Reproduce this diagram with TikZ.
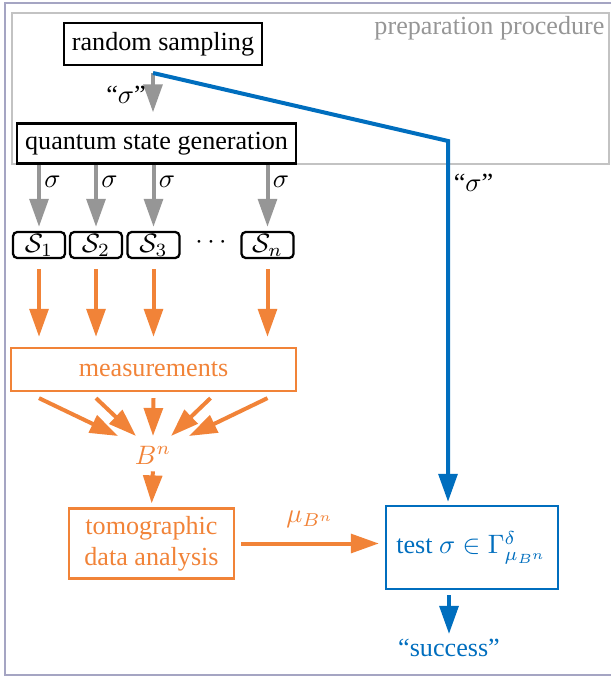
\documentclass[tikz,border=0pt]{standalone}
\usepackage{fontspec}
\setmainfont{Liberation Serif}
\usetikzlibrary{arrows.meta,calc}
\definecolor{orng}{RGB}{241,131,56}
\definecolor{blu}{RGB}{0,110,190}
\definecolor{gry}{RGB}{150,150,150}
\definecolor{frm}{RGB}{165,165,195}
\definecolor{prepc}{RGB}{195,195,195}
\begin{document}
\begin{tikzpicture}[x=0.375pt,y=-0.375pt,
  font=\fontsize{9.8}{11.8}\selectfont,
  tip/.style={-{Triangle[length=10.5pt,width=7pt]}},
  garrow/.style={tip, draw=gry, line width=1.5pt},
  oarrow/.style={tip, draw=orng, line width=1.5pt},
  barrow/.style={tip, draw=blu, line width=1.5pt},
  bbox/.style={draw, line width=0.85pt, inner sep=0pt},
  sbox/.style={bbox, rounded corners=1.6pt, minimum width=52*0.375pt, minimum height=26*0.375pt},
  obox/.style={bbox, draw=orng, text=orng},
  lab/.style={inner sep=1pt}
]
\useasboundingbox (0,0) rectangle (611,679);
% frames
\draw[frm, line width=0.6pt] (611,3) -- (5,3) -- (5,675) -- (611,675);
\draw[prepc, line width=0.45pt] (12,13) rectangle (609,164);
\node[anchor=east, text=gry, inner sep=0pt] (prep) at (605,28) {preparation procedure};

% nodes
\node[bbox, minimum width=198*0.375pt, minimum height=42*0.375pt] (rs) at (163,44) {random sampling};
\node[bbox, minimum width=279*0.375pt, minimum height=40*0.375pt] (qsg) at (156.5,143.5) {quantum state generation};
\node[sbox] (s1) at (39,245) {$\mathcal{S}_1$};
\node[sbox] (s2) at (96,245) {$\mathcal{S}_2$};
\node[sbox] (s3) at (153.5,245) {$\mathcal{S}_3$};
\node[sbox] (sn) at (267.5,245) {$\mathcal{S}_n$};
\node (dots) at (211,243) {$\cdots$};
\node[obox, minimum width=285*0.375pt, minimum height=43*0.375pt] (meas) at (153.5,369.5) {measurements};
\node[text=orng, inner sep=1pt] (bn) at (153,455) {$B^n$};
\node[obox, align=center, minimum width=165*0.375pt, minimum height=70*0.375pt] (tomo) at (151.5,543.5) {tomographic\\data analysis};
\node[bbox, draw=blu, text=blu, minimum width=172*0.375pt, minimum height=83*0.375pt] (test) at (472,547.5) {test $\sigma\in\Gamma^{\delta}_{\mu_{B^n}}$};
\node[text=blu, inner sep=1pt] (succ) at (449,648) {``success''};

% gray arrows
\coordinate (s0) at (153,73);
\draw[garrow, shorten >=10*0.375pt] (s0) -- (s0 |- qsg.north)
  node[pos=0.45, left=1pt, lab, text=black] {``$\sigma$''};
\foreach \s in {s1,s2,s3,sn}{
  \draw[garrow, shorten >=4*0.375pt] (qsg.south -| \s) -- (\s.north)
    node[pos=0.26, right=0.3pt, lab, text=black] {$\sigma$};
  \draw[oarrow, shorten <=10*0.375pt, shorten >=10*0.375pt] (\s.south) -- (meas.north -| \s);
}

% fan arrows into B^n
\draw[oarrow] ($(meas.south)+(-114.5,6)$) -- ($(bn)+(-35,-19)$);
\draw[oarrow] ($(meas.south)+(-57.5,6)$) -- ($(bn)+(-17,-19)$);
\draw[oarrow] ($(meas.south)+(0,6)$) -- ($(bn)+(0,-19)$);
\draw[oarrow] ($(meas.south)+(57,6)$) -- ($(bn)+(18,-19)$);
\draw[oarrow] ($(meas.south)+(114,6)$) -- ($(bn)+(36,-19)$);

\draw[oarrow, shorten <=4*0.375pt, shorten >=4*0.375pt] (bn.south) -- (tomo.north);
\draw[oarrow, shorten <=6*0.375pt, shorten >=6*0.375pt] (tomo.east) -- (tomo.east -| test.west)
  node[midway, above=4pt, lab, text=orng] {$\mu_{B^n}$};

% blue path
\coordinate (bend) at (448,141);
\draw[barrow, shorten >=3*0.375pt] (s0) -- (bend) -- (test.north -| bend);
\node[right=1pt, lab] (bsig) at (448,183) {``$\sigma$''};
\draw[barrow, shorten <=5*0.375pt, shorten >=2*0.375pt] (test.south -| succ) -- (succ.north);
\end{tikzpicture}
\end{document}
